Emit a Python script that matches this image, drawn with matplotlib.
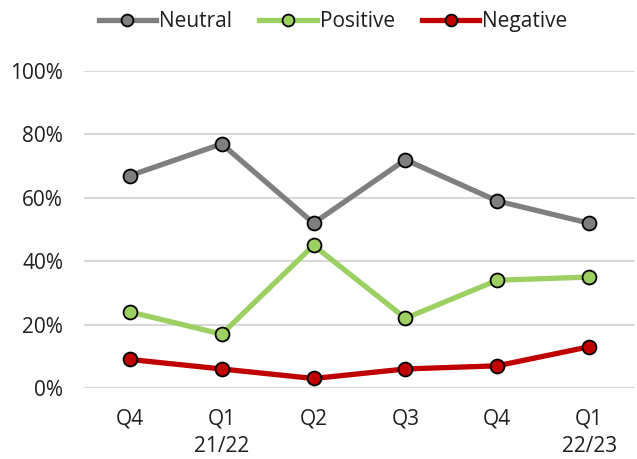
import matplotlib
matplotlib.use('Agg')
from matplotlib import pyplot as plt
from matplotlib.ticker import PercentFormatter

plt.rcParams['font.family'] = ['Open Sans', 'DejaVu Sans']

quarters = ['Q4', 'Q1\n21/22', 'Q2', 'Q3', 'Q4', 'Q1\n22/23']
neutral = [0.67, 0.77, 0.52, 0.72, 0.59, 0.52]
positive = [0.24, 0.17, 0.45, 0.22, 0.34, 0.35]
negative = [0.09, 0.06, 0.03, 0.06, 0.07, 0.13]

series = [('Neutral', neutral, '#7f7f7f'),
          ('Positive', positive, '#9dd062'),
          ('Negative', negative, '#c00000')]

txt = '#1f1f1f'

fig = plt.figure(figsize=(6.37, 4.59), dpi=100)
# plot area in pixels: x 84..635, y 71..388
ax = fig.add_axes([84 / 637, (459 - 388) / 459, 551 / 637, 317 / 459])

x = list(range(len(quarters)))
for name, vals, col in series:
    ax.plot(x, vals, color=col, linewidth=3.8, marker='o', markersize=10,
            markerfacecolor=col, markeredgecolor='black', markeredgewidth=1.3,
            label=name, clip_on=False, zorder=3)

ax.set_xlim(-0.5, 5.5)
ax.set_ylim(0, 1)
ax.set_yticks([0, 0.2, 0.4, 0.6, 0.8, 1.0])
ax.yaxis.set_major_formatter(PercentFormatter(1.0, decimals=0))
ax.set_xticks(x)
ax.set_xticklabels(quarters, fontsize=15, color=txt, linespacing=1.38)
ax.tick_params(axis='y', labelsize=15, labelcolor=txt, length=0, pad=15)
ax.tick_params(axis='x', length=0, pad=15)
ax.grid(axis='y', color='#d9d9d9', linewidth=1.5)
ax.set_axisbelow(True)
for s in ax.spines.values():
    s.set_visible(False)

fig.legend(loc='upper center', bbox_to_anchor=(0.523, 1.016), ncol=3, frameon=False,
           fontsize=15, handlelength=2.75, handletextpad=0.15, columnspacing=1.3,
           markerscale=0.85, labelcolor=txt)

plt.savefig('out.png', dpi=100)
